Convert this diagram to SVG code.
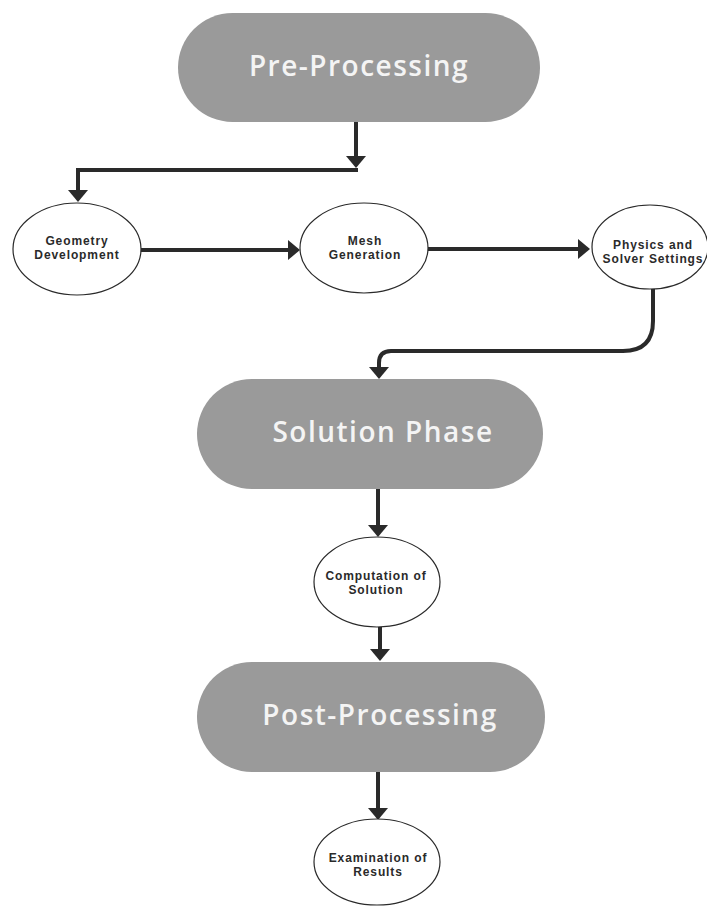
<svg xmlns="http://www.w3.org/2000/svg" width="707" height="906" viewBox="0 0 707 906">
<defs>
<style>
.pill{fill:#9a9a9a;stroke:none}
.circ{fill:#ffffff;stroke:#2a2a2a;stroke-width:1.2}
.ptxt{font-family:"Open Sans","Liberation Sans",sans-serif;font-weight:600;font-size:28px;letter-spacing:1.5px;fill:#f4f4f4;text-anchor:middle}
.ctxt{font-family:"Liberation Sans",Arial,sans-serif;font-weight:700;font-size:12px;letter-spacing:0.9px;fill:#2a2a2a;text-anchor:middle}
.con{fill:none;stroke:#2a2a2a;stroke-width:4}
</style>
<marker id="ah" viewBox="0 0 12 20" refX="4" refY="10" markerWidth="12" markerHeight="20" orient="auto" markerUnits="userSpaceOnUse">
<path d="M0,0 L12,10 L0,20 z" fill="#2a2a2a"/>
</marker>
</defs>
<rect width="707" height="906" fill="#ffffff"/>
<g id="connectors">
<path class="con" d="M356,122 V160" marker-end="url(#ah)"/>
<path class="con" d="M358,170 H78 V194" marker-end="url(#ah)"/>
<path class="con" d="M140,250 H292" marker-end="url(#ah)"/>
<path class="con" d="M428,249 H582" marker-end="url(#ah)"/>
<path class="con" d="M653,289 V321 Q653,351 623,351 H391 Q379,351 379,363 V371" marker-end="url(#ah)"/>
<path class="con" d="M378,489 V529" marker-end="url(#ah)"/>
<path class="con" d="M380,627 V653" marker-end="url(#ah)"/>
<path class="con" d="M378,772 V812" marker-end="url(#ah)"/>
</g>
<g id="pre-processing">
<rect class="pill" x="178" y="13" width="362" height="109" rx="54.5"/>
<text class="ptxt" x="359" y="76">Pre-Processing</text>
</g>
<g id="geometry-development">
<ellipse class="circ" cx="77" cy="249" rx="64" ry="46"/>
<text class="ctxt" x="77" y="245">Geometry</text>
<text class="ctxt" x="77" y="259">Development</text>
</g>
<g id="mesh-generation">
<ellipse class="circ" cx="364" cy="248" rx="64" ry="45"/>
<text class="ctxt" x="365" y="245">Mesh</text>
<text class="ctxt" x="365" y="259">Generation</text>
</g>
<g id="physics-solver-settings">
<ellipse class="circ" cx="650" cy="247" rx="58" ry="42"/>
<text class="ctxt" x="653" y="249">Physics and</text>
<text class="ctxt" x="653" y="263">Solver Settings</text>
</g>
<g id="solution-phase">
<rect class="pill" x="197" y="379" width="346" height="110" rx="55"/>
<text class="ptxt" x="383" y="442">Solution Phase</text>
</g>
<g id="computation-of-solution">
<ellipse class="circ" cx="377" cy="582" rx="63" ry="45"/>
<text class="ctxt" x="376" y="580">Computation of</text>
<text class="ctxt" x="376" y="594">Solution</text>
</g>
<g id="post-processing">
<rect class="pill" x="197" y="662" width="348" height="110" rx="55"/>
<text class="ptxt" x="380" y="725">Post-Processing</text>
</g>
<g id="examination-of-results">
<ellipse class="circ" cx="377" cy="862" rx="63" ry="43"/>
<text class="ctxt" x="378" y="862">Examination of</text>
<text class="ctxt" x="378" y="876">Results</text>
</g>
</svg>
